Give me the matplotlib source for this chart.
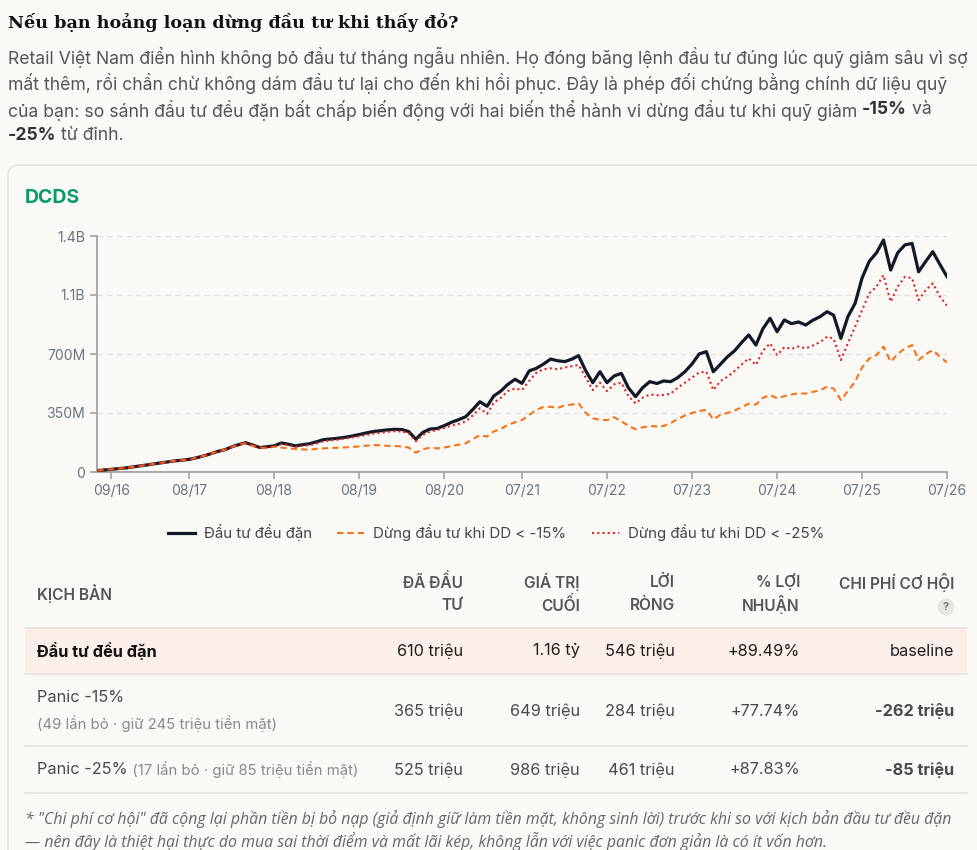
import matplotlib
matplotlib.use("Agg")
import numpy as np
import pandas as pd
from matplotlib import pyplot as plt
from matplotlib.patches import FancyBboxPatch, Rectangle, Ellipse
from matplotlib.lines import Line2D

# ---- data (values in million VND, monthly from 07/2016) ----
regular = [8, 12, 16, 20, 24, 30, 36, 42, 48, 54, 60, 66, 70, 75, 84, 95, 108, 122, 132, 150,
           162, 174, 160, 145, 150, 155, 172, 165, 155, 162, 168, 180, 192, 196, 200, 206, 213, 222, 232, 240,
           245, 250, 253, 252, 240, 195, 235, 255, 258, 275, 295, 310, 328, 370, 417, 390, 450, 480, 520, 550,
           526, 600, 615, 640, 670, 660, 655, 670, 690, 600, 530, 595, 530, 570, 585, 500, 447, 500, 536, 525,
           540, 536, 560, 595, 640, 700, 714, 595, 640, 684, 720, 770, 813, 753, 850, 912, 832, 902, 880, 890,
           872, 900, 921, 951, 930, 793, 921, 1000, 1150, 1250, 1300, 1376, 1198, 1300, 1347, 1356, 1188, 1250, 1307, 1230,
           1159]
panic15 = [8, 12, 16, 20, 24, 30, 36, 42, 48, 54, 60, 66, 70, 75, 84, 95, 108, 122, 132, 150,
           160, 172, 155, 145, 142, 150, 145, 140, 137, 134, 132, 138, 140, 142, 144, 146, 148, 152, 156, 160,
           158, 155, 154, 152, 145, 115, 135, 144, 140, 145, 154, 162, 170, 195, 219, 210, 240, 255, 280, 295,
           308, 338, 370, 385, 387, 380, 395, 400, 407, 350, 318, 310, 308, 325, 300, 275, 253, 265, 273, 270,
           273, 290, 315, 335, 350, 362, 368, 312, 340, 350, 365, 385, 405, 400, 440, 457, 437, 450, 460, 467,
           465, 475, 485, 506, 495, 427, 480, 536, 620, 674, 694, 743, 654, 700, 733, 753, 664, 700, 723, 684,
           649]
panic25 = [8, 12, 16, 20, 24, 30, 36, 42, 48, 54, 60, 66, 70, 75, 84, 95, 108, 122, 132, 150,
           161, 173, 158, 144, 147, 150, 165, 160, 150, 155, 160, 170, 182, 188, 192, 198, 205, 212, 220, 228,
           232, 238, 242, 240, 230, 182, 220, 240, 249, 262, 275, 285, 300, 335, 378, 345, 410, 440, 480, 496,
           486, 540, 590, 610, 615, 610, 620, 628, 635, 560, 486, 530, 480, 520, 530, 450, 407, 440, 460, 455,
           457, 465, 500, 530, 560, 590, 595, 486, 540, 565, 600, 640, 674, 635, 720, 763, 694, 740, 730, 745,
           733, 750, 770, 803, 790, 664, 763, 862, 960, 1060, 1100, 1168, 1010, 1100, 1158, 1150, 1020, 1080, 1119, 1040,
           986]
dates = pd.date_range("2016-07-01", periods=len(regular), freq="MS")

series_labels = ["Đầu tư đều đặn", "Dừng đầu tư khi DD < -15%", "Dừng đầu tư khi DD < -25%"]
xtick_dates = ["2016-09-01", "2017-08-01", "2018-08-01", "2019-08-01", "2020-08-01", "2021-07-01",
               "2022-07-01", "2023-07-01", "2024-07-01", "2025-07-01", "2026-07-01"]
ytick_vals = [0, 350, 700, 1050, 1400]
ytick_labels = ["0", "350M", "700M", "1.1B", "1.4B"]

col_headers = ["ĐÃ ĐẦU\nTƯ", "GIÁ TRỊ\nCUỐI", "LỜI\nRÒNG", "% LỢI\nNHUẬN", "CHI PHÍ CƠ HỘI"]
row_names = ["Đầu tư đều đặn", "Panic -15%", "Panic -25%"]
row_notes = ["", "(49 lần bỏ · giữ 245 triệu tiền mặt)", "(17 lần bỏ · giữ 85 triệu tiền mặt)"]
invested = ["610 triệu", "365 triệu", "525 triệu"]
final_val = ["1.16 tỷ", "649 triệu", "986 triệu"]
net_profit = ["546 triệu", "284 triệu", "461 triệu"]
pct_profit = ["+89.49%", "+77.74%", "+87.83%"]
opp_cost = ["baseline", "-262 triệu", "-85 triệu"]

W, H = 978, 850
BG = "#faf9f6"
FONT = "Inter"

fig = plt.figure(figsize=(W / 100, H / 100), dpi=100, facecolor=BG)


def fx(px):
    return px / W


def fy(py):
    return 1 - py / H


def pt(px):
    return px * 0.72


def runs(x, y, parts):
    """Draw text pieces one after another on one line (pixel coords)."""
    r = fig.canvas.get_renderer()
    for s, kw in parts:
        t = fig.text(fx(x), fy(y), s, va="center", ha="left", **kw)
        bb = t.get_window_extent(renderer=r)
        x += bb.width


# card
card = FancyBboxPatch((fx(8), fy(900)), fx(1000), fy(165) - fy(900),
                      boxstyle="round,pad=0,rounding_size=0.012", transform=fig.transFigure,
                      facecolor="#faf9f6", edgecolor="#e6e3de", linewidth=1.2, zorder=-5)
fig.patches.append(card)

# title + intro
fig.text(fx(8), fy(22), "Nếu bạn hoảng loạn dừng đầu tư khi thấy đỏ?", family="DejaVu Serif",
         weight="bold", fontsize=pt(17.5), color="#111111", va="center")
sub = dict(family=FONT, fontsize=pt(17.6), color="#555555")
subb = dict(family=FONT, fontsize=pt(17.6), color="#333333", weight="bold")
runs(8, 57, [("Retail Việt Nam điển hình không bỏ đầu tư tháng ngẫu nhiên. Họ đóng băng lệnh đầu tư đúng lúc quỹ giảm sâu vì sợ", sub)])
runs(8, 84, [("mất thêm, rồi chần chừ không dám đầu tư lại cho đến khi hồi phục. Đây là phép đối chứng bằng chính dữ liệu quỹ", sub)])
runs(8, 110, [("của bạn: so sánh đầu tư đều đặn bất chấp biến động với hai biến thể hành vi dừng đầu tư khi quỹ giảm ", sub),
              ("-15%", subb), (" và", sub)])
runs(8, 136, [("-25%", subb), (" từ đỉnh.", sub)])

fig.text(fx(25), fy(198), "DCDS", family=FONT, weight="bold", fontsize=pt(19.5), color="#0a9a6a", va="center")

# ---- chart ----
ax = fig.add_axes([fx(97), fy(472), fx(947) - fx(97), fy(236) - fy(472)])
ax.set_facecolor(BG)
ax.plot(dates, regular, color="#111827", lw=2.3, label=series_labels[0], zorder=3)
ax.plot(dates, panic15, color="#f97316", lw=1.5, ls=(0, (3, 2)), label=series_labels[1], zorder=4)
ax.plot(dates, panic25, color="#dc2626", lw=1.5, ls=(0, (1, 1.5)), label=series_labels[2], zorder=5)
ax.set_xlim(dates[0], dates[-1])
ax.set_ylim(0, 1400)
ax.set_yticks(ytick_vals)
ax.set_yticklabels(ytick_labels)
ax.set_xticks(pd.to_datetime(xtick_dates))
ax.set_xticklabels([pd.Timestamp(d).strftime("%m/%y") for d in xtick_dates])
ax.grid(axis="y", color="#e3e3e6", ls=(0, (4, 3)), lw=1)
ax.set_axisbelow(True)
for s in ["top", "right"]:
    ax.spines[s].set_visible(False)
for s in ["left", "bottom"]:
    ax.spines[s].set_color("#a3a3a3")
    ax.spines[s].set_linewidth(1.3)
ax.tick_params(colors="#a3a3a3", labelcolor="#6b7280", labelsize=pt(14), length=5, width=1.2)
for lab in ax.get_xticklabels() + ax.get_yticklabels():
    lab.set_family(FONT)

handles, labels = ax.get_legend_handles_labels()
leg = fig.legend(handles, labels, loc="center", bbox_to_anchor=(fx(496), fy(533)), ncol=3, frameon=False,
                 prop={"family": FONT, "size": pt(15)}, handlelength=1.8, columnspacing=1.7, handletextpad=0.6)
for t in leg.get_texts():
    t.set_color("#444444")

# ---- table ----
right_x = [463, 580, 675, 800, 954]
hdr = dict(family=FONT, fontsize=pt(15.5), color="#555555", weight="semibold")
fig.text(fx(37), fy(594), "KỊCH BẢN", ha="left", va="center", **hdr)
for i, h in enumerate(col_headers):
    lines = h.split("\n")
    fig.text(fx(right_x[i]), fy(582), lines[0], ha="right", va="center", **hdr)
    if len(lines) == 2:
        fig.text(fx(right_x[i]), fy(605), lines[1], ha="right", va="center", **hdr)
fig.patches.append(Ellipse((fx(946), fy(607)), 2 * 8.5 / W, 2 * 8.5 / H, transform=fig.transFigure,
                           facecolor="#e8e5df", edgecolor="none", zorder=1))
fig.text(fx(946), fy(607), "?", ha="center", va="center", family=FONT, fontsize=pt(11), weight="bold",
         color="#777777", zorder=2)

fig.patches.append(Rectangle((fx(25), fy(674)), fx(967) - fx(25), fy(628) - fy(674), transform=fig.transFigure,
                             facecolor="#fcefea", edgecolor="none", zorder=-1))
for yl in [628, 674, 746, 793]:
    fig.add_artist(Line2D([fx(25), fx(967)], [fy(yl), fy(yl)], color="#e6e3de", lw=1.2))

row_y = [651, 711, 770]
body = dict(family=FONT, fontsize=pt(16.3))
note = dict(family=FONT, fontsize=pt(14.9), color="#8a8a8a")
for r in range(3):
    y = row_y[r]
    vcol = "#1f1f1f" if r == 0 else "#4a4a4a"
    if r == 0:
        fig.text(fx(37), fy(y), row_names[r], ha="left", va="center", weight="bold", color="#111111", **body)
    elif r == 1:
        fig.text(fx(37), fy(698), row_names[r], ha="left", va="center", color="#4a4a4a", **body)
        fig.text(fx(37), fy(724), row_notes[r], ha="left", va="center", **note)
    else:
        runs(37, y, [(row_names[r], dict(color="#4a4a4a", **body)), (" " + row_notes[r], note)])
    vals = [invested[r], final_val[r], net_profit[r], pct_profit[r], opp_cost[r]]
    for i, v in enumerate(vals):
        w = "bold" if (i == 4 and r > 0) else "normal"
        fig.text(fx(right_x[i]), fy(y), v, ha="right", va="center", color=vcol, weight=w, **body)

foot = dict(family="Open Sans", style="italic", fontsize=pt(15.9), color="#666666")
fig.text(fx(25), fy(819), "* \"Chi phí cơ hội\" đã cộng lại phần tiền bị bỏ nạp (giả định giữ làm tiền mặt, không sinh lời) trước khi so với kịch bản đầu tư đều đặn",
         ha="left", va="center", **foot)
fig.text(fx(25), fy(842), "— nên đây là thiệt hại thực do mua sai thời điểm và mất lãi kép, không lẫn với việc panic đơn giản là có ít vốn hơn.",
         ha="left", va="center", **foot)

fig.savefig("out.png", dpi=100, facecolor=BG)
